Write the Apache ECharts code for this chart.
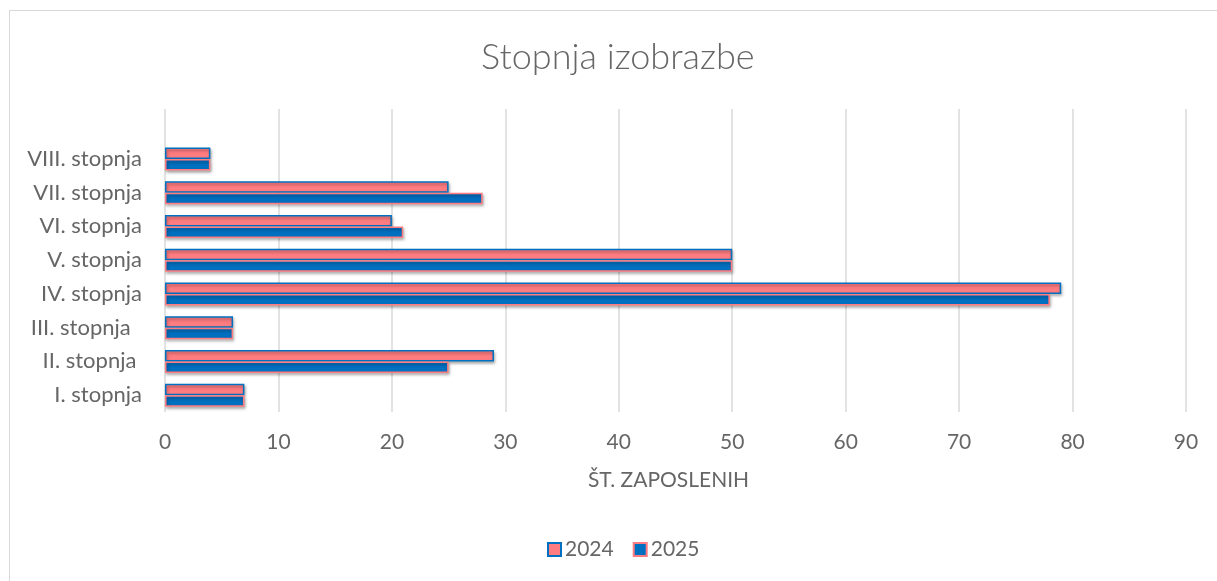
<!DOCTYPE html>
<html>
<head>
<meta charset="utf-8">
<title>Stopnja izobrazbe</title>
<script src="https://cdn.jsdelivr.net/npm/echarts@6/dist/echarts.min.js"></script>
<style>
  html, body { margin: 0; padding: 0; background: #fff; }
  #frame {
    position: absolute; left: 9px; top: 10px;
    width: 1230px; height: 600px;
    border: 1px solid #d9d9d9; box-sizing: border-box;
  }
  #chart { position: absolute; left: 0; top: 0; width: 1217px; height: 581px; }
</style>
</head>
<body>
<div id="frame"></div>
<div id="chart"></div>
<script>
// Categories, bottom to top (as in the reference)
const categories = [
  'I. stopnja',
  'II. stopnja ',
  'III. stopnja  ',
  'IV. stopnja',
  'V. stopnja',
  'VI. stopnja',
  'VII. stopnja',
  'VIII. stopnja'
];
const values2024 = [7, 29, 6, 79, 50, 20, 25, 4];
const values2025 = [7, 25, 6, 78, 50, 21, 28, 4];
const xTicks = { min: 0, max: 90, interval: 10 };

const PINK = '#FF7C80';
const BLUE = '#0070C0';
const TEXT = '#666666';
const FONT = 'Lato, "Open Sans", sans-serif';

const chart = echarts.init(document.getElementById('chart'), null, { renderer: 'canvas' });

const barShadow = {
  shadowBlur: 3,
  shadowColor: 'rgba(0,0,0,0.35)',
  shadowOffsetX: 1,
  shadowOffsetY: 2
};

const option = {
  animation: false,
  textStyle: { fontFamily: FONT },
  title: {
    text: 'Stopnja izobrazbe',
    left: 476,
    top: 34,
    textStyle: { fontFamily: FONT, fontWeight: 300, fontSize: 36, color: TEXT }
  },
  legend: {
    bottom: 16,
    left: 542,
    icon: 'rect',
    itemWidth: 13,
    itemHeight: 13,
    itemGap: 19,
    textStyle: { fontFamily: FONT, fontSize: 21, color: TEXT, padding: [0, 0, 0, -1] },
    data: ['2024', '2025']
  },
  grid: [
    // main plot (bars + labels)
    { left: 165, right: 31, top: 142, bottom: 169, containLabel: false },
    // taller grid only for the vertical gridlines
    { left: 165, right: 31, top: 109, bottom: 169, containLabel: false }
  ],
  xAxis: [
    {
      type: 'value',
      gridIndex: 0,
      min: xTicks.min, max: xTicks.max, interval: xTicks.interval,
      axisLine: { show: false },
      axisTick: { show: false },
      splitLine: { show: false },
      axisLabel: { color: TEXT, fontSize: 21, margin: 20, fontFamily: FONT },
      name: 'ŠT. ZAPOSLENIH',
      nameLocation: 'middle',
      nameGap: 58,
      nameTextStyle: { color: TEXT, fontSize: 21, fontFamily: FONT, padding: [0, 14, 0, 0] }
    },
    {
      type: 'value',
      gridIndex: 1,
      min: xTicks.min, max: xTicks.max, interval: xTicks.interval,
      axisLine: { show: false },
      axisTick: { show: false },
      axisLabel: { show: false },
      splitLine: { lineStyle: { color: '#d9d9d9', width: 1.5 } }
    }
  ],
  yAxis: [
    {
      type: 'category',
      gridIndex: 0,
      data: categories,
      axisLine: { show: false },
      axisTick: { show: false },
      axisLabel: { color: TEXT, fontSize: 22, margin: 23, fontFamily: FONT }
    },
    {
      type: 'value',
      gridIndex: 1,
      show: false,
      min: 0, max: 1
    }
  ],
  series: [
    {
      name: '2024',
      type: 'bar',
      xAxisIndex: 0,
      yAxisIndex: 0,
      data: values2024,
      barWidth: 11.5,
      barGap: '0%',
      itemStyle: Object.assign({ color: PINK, borderColor: BLUE, borderWidth: 1.5 }, barShadow)
    },
    {
      name: '2025',
      type: 'bar',
      xAxisIndex: 0,
      yAxisIndex: 0,
      data: values2025,
      barWidth: 11.5,
      barGap: '0%',
      itemStyle: Object.assign({ color: BLUE, borderColor: PINK, borderWidth: 1.5 }, barShadow)
    }
  ]
};

chart.setOption(option);

window.addEventListener('resize', () => chart.resize());
</script>
</body>
</html>
